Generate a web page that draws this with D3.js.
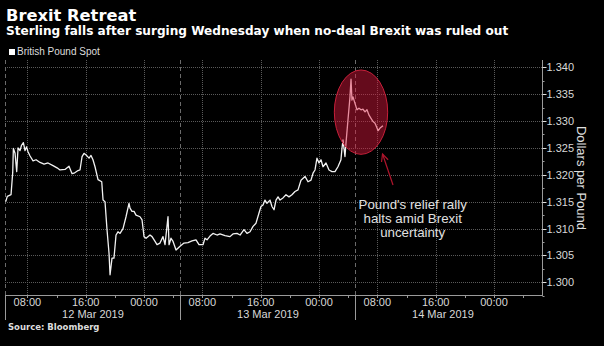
<!DOCTYPE html>
<html>
<head>
<meta charset="utf-8">
<script src="https://cdn.jsdelivr.net/npm/d3@7"></script>
<style>
  html, body { margin: 0; padding: 0; background: #000; }
  svg { display: block; }
</style>
</head>
<body>
<div id="chart"></div>
<script>
var WIDTH = 604, HEIGHT = 346;

// GBP/USD spot; time as hours counted from 12 Mar 2019 00:00
var hours = [
  5.03, 5.25, 5.76, 5.99, 6.08, 6.31, 6.54, 6.72, 6.99, 7.20, 7.45, 7.68, 7.89, 8.09, 8.37,
  8.78, 9.19, 9.74, 10.29, 10.83, 11.52, 12.07, 12.48, 13.16, 13.71, 14.13, 14.40, 14.95,
  15.22, 15.50, 15.77, 16.05, 16.46, 16.73, 17.00, 17.28, 17.69, 18.20, 18.38, 18.65, 18.93,
  19.20, 19.34, 19.61, 19.88, 20.16, 20.43, 20.71, 21.12, 21.53, 21.94, 22.08, 22.35, 22.63,
  22.90, 23.45, 23.73, 24.00, 24.28, 24.82, 25.10, 25.51, 25.78, 26.19, 26.60, 26.88, 27.29,
  27.43, 27.70, 27.98, 28.39, 28.94, 29.48, 30.03, 30.58, 31.13, 31.54, 32.09, 32.36, 32.64,
  33.05, 33.46, 34.01, 34.42, 35.11, 35.79, 36.20, 36.75, 37.17, 37.71, 38.12, 38.54, 38.95,
  39.36, 39.77, 40.04, 40.32, 40.59, 40.87, 41.28, 41.55, 41.83, 42.10, 42.38, 42.65, 43.06,
  43.47, 43.88, 44.29, 44.71, 45.12, 45.53, 46.08, 46.49, 46.90, 47.18, 47.45, 47.72, 48.00,
  48.27, 48.55, 48.96, 49.37, 49.78, 50.19, 50.60, 51.01, 51.15, 51.29, 51.56, 51.70, 51.97,
  52.25, 52.39, 52.52, 52.66, 52.93, 53.21, 53.48, 53.76, 54.03, 54.31, 54.58, 54.86, 55.13,
  55.41, 55.68, 55.96, 56.09, 56.37, 56.64, 56.78
];
var spot = [
  1.3150, 1.3160, 1.3163, 1.3204, 1.3249, 1.3240, 1.3206, 1.3250, 1.3245, 1.3255, 1.3260, 1.3245, 1.3252, 1.3243, 1.3235,
  1.3226, 1.3228, 1.3223, 1.3220, 1.3222, 1.3217, 1.3213, 1.3209, 1.3210, 1.3216, 1.3202, 1.3203, 1.3208,
  1.3209, 1.3234, 1.3240, 1.3237, 1.3231, 1.3236, 1.3228, 1.3215, 1.3191, 1.3187, 1.3153, 1.3150, 1.3097,
  1.3054, 1.3014, 1.3045, 1.3045, 1.3088, 1.3094, 1.3091, 1.3100, 1.3122, 1.3147, 1.3138, 1.3132, 1.3132,
  1.3125, 1.3122, 1.3116, 1.3085, 1.3082, 1.3088, 1.3085, 1.3076, 1.3070, 1.3073, 1.3085, 1.3070, 1.3122,
  1.3070, 1.3082, 1.3076, 1.3060, 1.3067, 1.3073, 1.3074, 1.3077, 1.3079, 1.3070, 1.3070, 1.3082, 1.3079,
  1.3086, 1.3091, 1.3088, 1.3090, 1.3087, 1.3085, 1.3090, 1.3091, 1.3088, 1.3098, 1.3091, 1.3094, 1.3104,
  1.3110, 1.3129, 1.3141, 1.3144, 1.3153, 1.3147, 1.3153, 1.3141, 1.3135, 1.3153, 1.3159, 1.3153, 1.3157,
  1.3163, 1.3159, 1.3163, 1.3169, 1.3172, 1.3190, 1.3197, 1.3187, 1.3190, 1.3203, 1.3209, 1.3231, 1.3222,
  1.3228, 1.3215, 1.3222, 1.3209, 1.3206, 1.3206, 1.3215, 1.3228, 1.3249, 1.3265, 1.3234, 1.3259, 1.3302,
  1.3345, 1.3378, 1.3339, 1.3345, 1.3333, 1.3321, 1.3324, 1.3321, 1.3322, 1.3317, 1.3321, 1.3311, 1.3305,
  1.3299, 1.3296, 1.3287, 1.3282, 1.3287, 1.3290, 1.3291
];

var yTicks = [1.300, 1.305, 1.310, 1.315, 1.320, 1.325, 1.330, 1.335, 1.340];
var dayStarts = [5, 29, 53];                 // trading days begin 05:00
var dayLabels = ["12 Mar 2019", "13 Mar 2019", "14 Mar 2019"];
var noteLines = ["Pound's relief rally", "halts amid Brexit", "uncertainty"];

var T0 = Date.UTC(2019, 2, 12);
function at(h) { return new Date(T0 + h * 3600e3); }

var data = hours.map(function(h, i) { return { t: at(h), v: spot[i] }; });

// plot box
var pL = 5, pR = 542, pT = 60, pB = 295;

var x = d3.scaleUtc().domain([at(4.933), at(78.583)]).range([pL, pR]);
var y = d3.scaleLinear().domain([1.29764, 1.34136]).range([pB, pT]);

var svg = d3.select("#chart").append("svg")
  .attr("width", WIDTH).attr("height", HEIGHT)
  .style("background", "#000");

// titles
svg.append("text").attr("x", 6).attr("y", 21)
  .attr("fill", "#fff").style("font", "bold 16.3px 'DejaVu Sans'")
  .text("Brexit Retreat");
svg.append("text").attr("x", 6).attr("y", 35)
  .attr("fill", "#fff").style("font", "bold 12.1px 'DejaVu Sans'")
  .text("Sterling falls after surging Wednesday when no-deal Brexit was ruled out");

// legend
svg.append("rect").attr("x", 9).attr("y", 49).attr("width", 6).attr("height", 6).attr("fill", "#fff");
svg.append("text").attr("x", 17).attr("y", 55)
  .attr("fill", "#ddd").style("font", "10px 'Liberation Sans'")
  .text("British Pound Spot");

var grid = svg.append("g");

// horizontal grid
grid.selectAll("line.h").data(yTicks).enter().append("line")
  .attr("x1", pL).attr("x2", pR)
  .attr("y1", function(d) { return Math.round(y(d)) + 0.5; })
  .attr("y2", function(d) { return Math.round(y(d)) + 0.5; })
  .attr("stroke", "#5a5a5a").attr("stroke-dasharray", "1,1");

// vertical grid every 8 hours
var majors = x.ticks(d3.utcHour.every(8));
grid.selectAll("line.v").data(majors).enter().append("line")
  .attr("x1", function(d) { return Math.round(x(d)) + 0.5; })
  .attr("x2", function(d) { return Math.round(x(d)) + 0.5; })
  .attr("y1", pT).attr("y2", pB)
  .attr("stroke", "#5a5a5a").attr("stroke-dasharray", "1,1");

// day separators
grid.selectAll("line.d").data(dayStarts).enter().append("line")
  .attr("x1", function(d) { return Math.round(x(at(d))) + 0.5; })
  .attr("x2", function(d) { return Math.round(x(at(d))) + 0.5; })
  .attr("y1", pT).attr("y2", pB)
  .attr("stroke", "#6a6a6a").attr("stroke-dasharray", "4,3");

// price line
var line = d3.line().x(function(d) { return x(d.t); }).y(function(d) { return y(d.v); });
svg.append("path").datum(data)
  .attr("d", line)
  .attr("fill", "none")
  .attr("stroke", "#f2f2f2")
  .attr("stroke-width", 1.3)
  .attr("stroke-linejoin", "round");

// highlight around the Wednesday spike
var hl = { t0: 50.10, t1: 57.42, v0: 1.32381, v1: 1.33950 };
var ex0 = x(at(hl.t0)), ex1 = x(at(hl.t1)), ey0 = y(hl.v1), ey1 = y(hl.v0);
svg.append("ellipse")
  .attr("cx", (ex0 + ex1) / 2).attr("cy", (ey0 + ey1) / 2)
  .attr("rx", (ex1 - ex0) / 2).attr("ry", (ey1 - ey0) / 2)
  .attr("fill", "#e0183f").attr("fill-opacity", 0.45)
  .attr("stroke", "#c8203a").attr("stroke-width", 1);

// arrow pointing at the highlight
var ax0 = x(at(58.15)), ay0 = y(1.3181), ax1 = x(at(56.71)), ay1 = y(1.32387);
var ang = Math.atan2(ay0 - ay1, ax0 - ax1), len = 8, spread = 0.45;
var arrow = svg.append("g").attr("stroke", "#b0152c").attr("stroke-width", 1.2).attr("fill", "none");
arrow.append("line").attr("x1", ax0).attr("y1", ay0).attr("x2", ax1).attr("y2", ay1);
arrow.append("path").attr("d",
  "M" + (ax1 + len * Math.cos(ang + spread)) + "," + (ay1 + len * Math.sin(ang + spread)) +
  "L" + ax1 + "," + ay1 +
  "L" + (ax1 + len * Math.cos(ang - spread)) + "," + (ay1 + len * Math.sin(ang - spread)));

// annotation text
svg.append("text")
  .attr("x", x(at(60.85))).attr("y", 209)
  .attr("fill", "#e0e0e0").attr("text-anchor", "middle")
  .style("font", "13.3px 'Liberation Sans'")
  .selectAll("tspan").data(noteLines).enter().append("tspan")
  .attr("x", x(at(60.85)))
  .attr("dy", function(d, i) { return i ? 14 : 0; })
  .text(function(d) { return d; });

// x axis
var axisColor = "#9a9a9a";
svg.append("line").attr("x1", pL).attr("x2", pR).attr("y1", pB + 0.5).attr("y2", pB + 0.5)
  .attr("stroke", axisColor);
var minors = x.ticks(d3.utcHour.every(4));
svg.selectAll("line.xt").data(minors).enter().append("line")
  .attr("x1", function(d) { return Math.round(x(d)) + 0.5; })
  .attr("x2", function(d) { return Math.round(x(d)) + 0.5; })
  .attr("y1", pB).attr("y2", pB + 3)
  .attr("stroke", axisColor);
svg.selectAll("text.xl").data(majors).enter().append("text")
  .attr("x", function(d) { return x(d); }).attr("y", 306)
  .attr("text-anchor", "middle").attr("fill", "#d8d8d8")
  .style("font", "11px 'Liberation Sans'")
  .text(d3.utcFormat("%H:%M"));
svg.selectAll("line.dl").data(dayStarts).enter().append("line")
  .attr("x1", function(d) { return Math.round(x(at(d))) + 0.5; })
  .attr("x2", function(d) { return Math.round(x(at(d))) + 0.5; })
  .attr("y1", pB).attr("y2", 320)
  .attr("stroke", axisColor);
svg.selectAll("text.dl").data(dayLabels).enter().append("text")
  .attr("x", function(d, i) { return (x(at(dayStarts[i])) + x(at(dayStarts[i] + 24))) / 2; })
  .attr("y", 318)
  .attr("text-anchor", "middle").attr("fill", "#d8d8d8")
  .style("font", "11px 'Liberation Sans'")
  .text(function(d) { return d; });

// y axis on the right
var yAxis = svg.append("g").attr("transform", "translate(" + (pR + 0.5) + ",0)");
yAxis.append("line").attr("y1", pT).attr("y2", pB + 1).attr("stroke", axisColor);
yAxis.selectAll("line.mt").data(d3.range(1.2975, 1.341, 0.0025)).enter().append("line")
  .attr("x1", 0).attr("x2", 2)
  .attr("y1", function(d) { return Math.round(y(d)) + 0.5; })
  .attr("y2", function(d) { return Math.round(y(d)) + 0.5; })
  .attr("stroke", axisColor);
yAxis.selectAll("line.yt").data(yTicks).enter().append("line")
  .attr("x1", 0).attr("x2", 4)
  .attr("y1", function(d) { return Math.round(y(d)) + 0.5; })
  .attr("y2", function(d) { return Math.round(y(d)) + 0.5; })
  .attr("stroke", "#ddd");
yAxis.selectAll("text").data(yTicks).enter().append("text")
  .attr("x", 4).attr("y", function(d) { return y(d) + 4; })
  .attr("fill", "#d8d8d8")
  .style("font", "11px 'Liberation Sans'")
  .text(d3.format(".3f"));

svg.append("text")
  .attr("transform", "translate(577,178) rotate(90)")
  .attr("text-anchor", "middle").attr("fill", "#e0e0e0")
  .style("font", "13px 'Liberation Sans'")
  .text("Dollars per Pound");

svg.append("text").attr("x", 8).attr("y", 330)
  .attr("fill", "#ddd").style("font", "bold 8.5px 'DejaVu Sans'")
  .text("Source: Bloomberg");
</script>
</body>
</html>
